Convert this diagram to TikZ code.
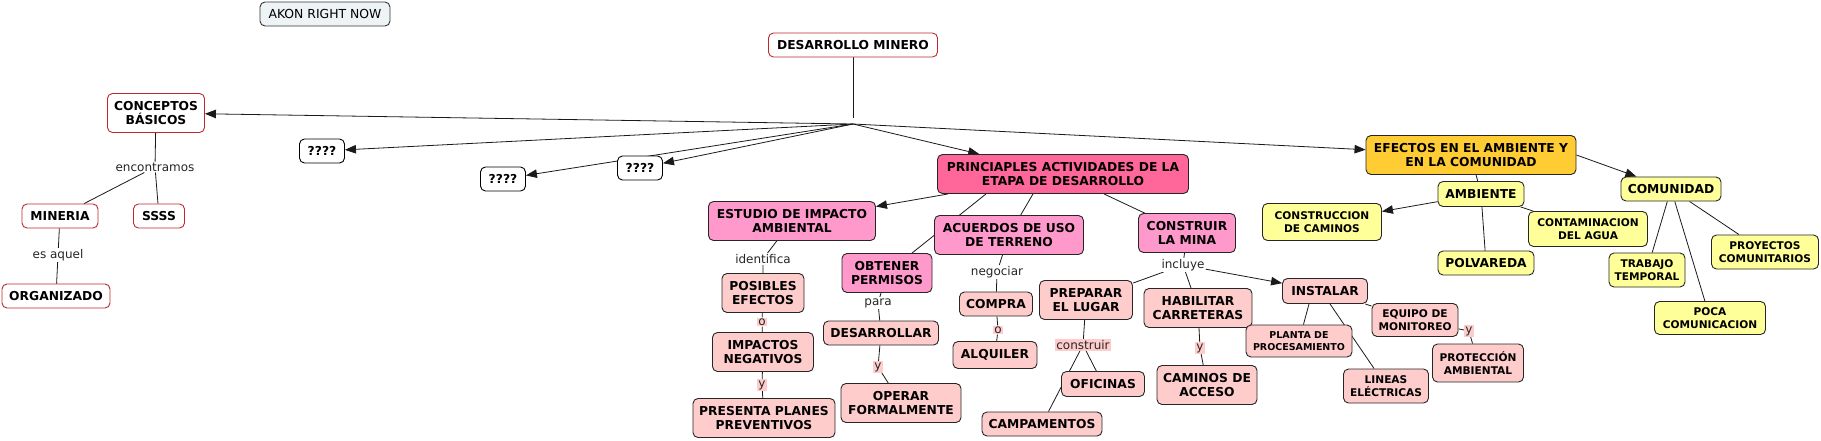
\documentclass[tikz,border=0pt]{standalone}
\usepackage{fontspec}
\setmainfont{DejaVu Sans}
\usetikzlibrary{arrows.meta,backgrounds}
\definecolor{cmred}{HTML}{C0282D}
\definecolor{cmline}{HTML}{1A1A1A}
\definecolor{cmgray}{HTML}{EEF3F6}
\definecolor{cmhot}{HTML}{FF6699}
\definecolor{cmpink}{HTML}{FF99CC}
\definecolor{cmrose}{HTML}{FFCCCC}
\definecolor{cmorange}{HTML}{FFCC33}
\definecolor{cmyellow}{HTML}{FFFF99}
\tikzset{
  >={Triangle[length=11pt,width=8.5pt]},
  % conceptos
  cb/.style={draw,rounded corners=5pt,line width=0.9pt,align=center,
             inner xsep=4pt,inner ysep=3pt,minimum height=24pt,
             font=\bfseries\fontsize{12.3}{14.5}\selectfont},
  dos/.style={minimum height=39pt},
  chico/.style={font=\bfseries\fontsize{10.6}{13}\selectfont},
  akonc/.style={cb,draw=black!80,fill=cmgray,font=\fontsize{12.4}{14.5}\selectfont},
  redc/.style={cb,draw=cmred,fill=white},
  qc/.style={cb,draw=black,fill=white},
  hotc/.style={cb,draw=black!85,fill=cmhot},
  pinkc/.style={cb,draw=black!85,fill=cmpink},
  rosec/.style={cb,draw=black!85,fill=cmrose},
  orac/.style={cb,draw=black!85,fill=cmorange},
  yelc/.style={cb,draw=black!85,fill=cmyellow},
  % frases de enlace
  lk/.style={font=\fontsize{12}{14}\selectfont,text=black!85,fill=white,inner sep=1pt},
  lkp/.style={lk,fill=cmrose},
  cn/.style={draw=cmline,line width=0.8pt},
  ca/.style={cn,->},
}
\begin{document}
\begin{tikzpicture}[x=1pt,y=-1pt]
  \useasboundingbox (0,0) rectangle (1821,440);
  \node[akonc,minimum width=130pt] (akon) at (325,14) {AKON RIGHT NOW};
  \node[redc,minimum width=169pt] (dm) at (853,45) {DESARROLLO MINERO};
  \coordinate (hubtop) at (853,118);
  \coordinate (hub) at (853,124);
  % izquierda
  \node[redc,dos,minimum width=97pt] (conc) at (156,113) {CONCEPTOS\\BÁSICOS};
  \node[lk] (enc) at (155,167) {encontramos};
  \node[redc,minimum width=76pt] (min) at (60,216) {MINERIA};
  \node[redc,minimum width=51pt] (ssss) at (159,216) {SSSS};
  \node[lk] (esaq) at (58,255) {es aquel};
  \node[redc,minimum width=108pt] (org) at (56,296) {ORGANIZADO};
  \node[qc,minimum width=45pt] (q1) at (322,151) {????};
  \node[qc,minimum width=45pt] (q2) at (503,179) {????};
  \node[qc,minimum width=45pt] (q3) at (640,168) {????};
  % actividades
  \node[hotc,dos,minimum width=251pt] (prin) at (1063,174) {PRINCIAPLES ACTIVIDADES DE LA\\ETAPA DE DESARROLLO};
  \node[pinkc,dos,minimum width=167pt] (est) at (792,221) {ESTUDIO DE IMPACTO\\AMBIENTAL};
  \node[lk] (ident) at (763,259) {identifica};
  \node[rosec,dos,minimum width=82pt] (pos) at (763,293) {POSIBLES\\EFECTOS};
  \node[lkp] (oa) at (762,322) {o};
  \node[rosec,dos,minimum width=101pt] (imp) at (763,352) {IMPACTOS\\NEGATIVOS};
  \node[lkp] (ya) at (762,385) {y};
  \node[rosec,dos,minimum width=142pt] (pres) at (764,418) {PRESENTA PLANES\\PREVENTIVOS};
  \node[pinkc,dos,minimum width=90pt] (obt) at (887,273) {OBTENER\\PERMISOS};
  \node[lk] (para) at (878,303) {para};
  \node[rosec,minimum width=115pt] (des) at (881,333) {DESARROLLAR};
  \node[lkp] (yb) at (878,367) {y};
  \node[rosec,dos,minimum width=120pt] (ope) at (901,403) {OPERAR\\FORMALMENTE};
  \node[pinkc,dos,minimum width=149pt] (acu) at (1009,235) {ACUERDOS DE USO\\DE TERRENO};
  \node[lk] (nego) at (997,272) {negociar};
  \node[rosec,minimum width=73pt] (compra) at (996,304) {COMPRA};
  \node[lkp] (ob) at (998,330) {o};
  \node[rosec,minimum width=84pt,minimum height=27pt] (alq) at (995,355) {ALQUILER};
  \node[pinkc,dos,minimum width=97pt] (cons) at (1187,233) {CONSTRUIR\\LA MINA};
  \node[lk] (incl) at (1183,265) {incluye};
  \node[rosec,dos,minimum width=93pt] (prep) at (1086,300) {PREPARAR\\EL LUGAR};
  \node[lkp] (cnst) at (1083,345) {construir};
  \node[rosec,minimum width=83pt,minimum height=25pt] (ofi) at (1103,384) {OFICINAS};
  \node[rosec,minimum width=120pt] (camp) at (1042,424) {CAMPAMENTOS};
  \node[rosec,dos,minimum width=108pt] (hab) at (1198,308) {HABILITAR\\CARRETERAS};
  \node[lkp] (yc) at (1200,348) {y};
  \node[rosec,dos,minimum width=100pt] (cam) at (1207,385) {CAMINOS DE\\ACCESO};
  \node[rosec,minimum width=85pt,minimum height=25pt] (inst) at (1325,291) {INSTALAR};
  \node[rosec,font=\bfseries\fontsize{9.5}{12}\selectfont,minimum width=106pt,minimum height=32pt] (planta) at (1299,341) {PLANTA DE\\PROCESAMIENTO};
  \node[rosec,chico,minimum width=85pt,minimum height=34pt] (lin) at (1386,386) {LINEAS\\ELÉCTRICAS};
  \node[rosec,chico,minimum width=86pt,minimum height=33pt] (equ) at (1415,320) {EQUIPO DE\\MONITOREO};
  \node[lkp] (yd) at (1469,331) {y};
  \node[rosec,chico,minimum width=91pt,minimum height=38pt] (prot) at (1478,363) {PROTECCIÓN\\AMBIENTAL};
  % efectos
  \node[orac,dos,minimum width=210pt] (efe) at (1471,155) {EFECTOS EN EL AMBIENTE Y\\EN LA COMUNIDAD};
  \node[yelc,minimum width=86pt,minimum height=25pt] (amb) at (1481,194) {AMBIENTE};
  \node[yelc,chico,minimum width=119pt,minimum height=37pt] (ccam) at (1322,222) {CONSTRUCCION\\DE CAMINOS};
  \node[yelc,chico,minimum width=119pt,minimum height=35pt] (cont) at (1588,229) {CONTAMINACION\\DEL AGUA};
  \node[yelc,minimum width=96pt] (polv) at (1486,263) {POLVAREDA};
  \node[yelc,minimum width=100pt] (com) at (1671,189) {COMUNIDAD};
  \node[yelc,chico,minimum width=76pt,minimum height=34pt] (trab) at (1647,270) {TRABAJO\\TEMPORAL};
  \node[yelc,chico,minimum width=111pt,minimum height=33pt] (poca) at (1710,318) {POCA\\COMUNICACION};
  \node[yelc,chico,minimum width=107pt,minimum height=34pt] (proy) at (1765,252) {PROYECTOS\\COMUNITARIOS};
  \begin{scope}[on background layer]
  \draw[cn] (dm) -- (hubtop);
  \draw[ca] (hub) -- (conc);
  \draw[ca] (hub) -- (q1);
  \draw[ca] (hub) -- (q2);
  \draw[ca] (hub) -- (q3);
  \draw[ca] (hub) -- (prin);
  \draw[ca] (hub) -- (efe);
  \draw[cn] (conc) -- (enc) -- (min);
  \draw[cn] (enc) -- (ssss);
  \draw[cn] (min) -- (esaq) -- (org);
  \draw[ca] (prin) -- (est);
  \draw[cn] ([xshift=-77pt]prin.south) -- (obt);
  \draw[cn] ([xshift=-30pt]prin.south) -- (acu);
  \draw[cn] ([xshift=41pt]prin.south) -- (cons);
  \draw[cn] (est) -- (ident) -- (pos) -- (oa) -- (imp) -- (ya) -- (pres);
  \draw[cn] (obt) -- (para) -- (des) -- (yb) -- (ope);
  \draw[cn] (acu) -- (nego) -- (compra) -- (ob) -- (alq);
  \draw[cn] (cons) -- (incl) -- (prep);
  \draw[cn] (incl) -- (hab);
  \draw[ca] (incl) -- (inst);
  \draw[cn] (prep) -- (cnst) -- (ofi);
  \draw[cn] (cnst) -- (camp);
  \draw[cn] (hab) -- (yc) -- (cam);
  \draw[cn] ([xshift=-16pt]inst.south) -- (planta);
  \draw[cn] ([xshift=5pt]inst.south) -- (lin);
  \draw[cn] (inst) -- (equ);
  \draw[cn] (equ) -- (yd) -- (prot);
  \draw[cn] (efe) -- (amb);
  \draw[ca] (efe.east) -- (com);
  \draw[ca] (amb) -- (ccam);
  \draw[cn] (amb) -- (polv);
  \draw[cn] (amb) -- (cont);
  \draw[cn] (com) -- (trab);
  \draw[cn] (com) -- (poca);
  \draw[cn] (com) -- (proy);
  \end{scope}
\end{tikzpicture}
\end{document}
